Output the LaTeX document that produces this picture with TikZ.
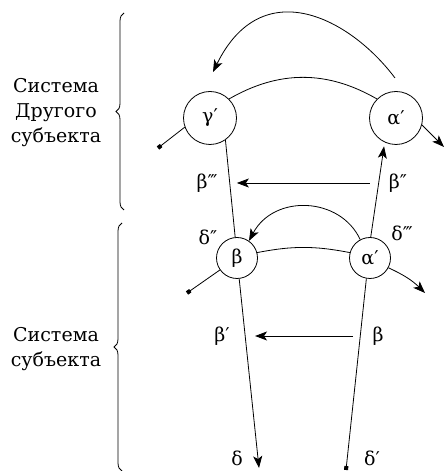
\documentclass[tikz,border=0pt]{standalone}
\usepackage{fontspec}
\setmainfont{DejaVu Serif}
\usetikzlibrary{arrows.meta,decorations.pathreplacing}

\tikzset{
  knot/.style={draw,circle,inner sep=0pt,minimum size=53pt},
  knotsm/.style={draw,circle,inner sep=0pt,minimum size=41pt},
  lbl/.style={inner sep=1pt},
  >={Stealth[length=12pt,width=9pt,inset=3pt]},
  sq/.style={-{Square[length=4pt,width=4pt]}},
  br/.style={decorate,decoration={brace,amplitude=8pt}},
}

\begin{document}
\begin{tikzpicture}[x=1pt,y=1pt,line width=0.8pt,font=\fontsize{19}{25}\selectfont]
\useasboundingbox (0,0) rectangle (445,471);
% circles
\node[knot] (gp) at (210,353) {γ′};
\node[knot] (at) at (396,353) {α′};
\node[knotsm] (b) at (237,213) {β};
\node[knotsm] (ab) at (370,213) {α′};
% labels
\node[lbl] (b3) at (207,288) {β‴};
\node[lbl] (b2) at (398,288) {β″};
\node[lbl] (b1) at (222,135) {β′};
\node[lbl] (b0) at (378,135) {β};
\node[lbl] (d2) at (208,234) {δ″};
\node[lbl] (d3) at (402,238) {δ‴};
\node[lbl] (d0) at (237,13) {δ};
\node[lbl] (d1) at (372,13) {δ′};
% free ends
\coordinate (arcA) at (395,393);
\coordinate (arcB) at (213,399);
\coordinate (dotg) at (158,323);
\coordinate (outa) at (444,324);
\coordinate (dotb) at (187,178);
\coordinate (outab) at (425,178);
\coordinate (dl) at (259,3);
\coordinate (dr) at (346,1);
% connectors
\draw (gp.45) to[bend left=30] (at.135);
\draw (b.15) to[bend left=11] (ab.165);
\draw[->] (arcA) .. controls +(-45,60) and +(49,100) .. (arcB);
\draw[->] (ab.118) .. controls +(-20,43) and +(25,47) .. (b.55);
\draw (gp.-55) -- (b.95);
\draw[->,shorten >=4pt] (ab.88) -- (at.-115);
\draw[->,shorten <=18pt,shorten >=18pt] (b2.west) -- (b3.east);
\draw[->,shorten <=18pt,shorten >=24pt] (b0.west) -- (b1.east);
\draw[->] (b.-84) -- (dl);
\draw[sq] (ab.-100) -- (dr);
\draw[sq] (gp.-160) -- (dotg);
\draw[->] (at.-15) -- (outa);
\draw[sq] (b.-145) -- (dotb);
\draw[->] (ab.-28) to[bend left=10] (outab);
% braces
\draw[br] (124,261) -- (124,458);
\draw[br] (122,0) -- (122,248);
\node[align=center] (sys2) at (56,358) {Система\\Другого\\субъекта};
\node[align=center] (sys1) at (56,122) {Система\\субъекта};
\end{tikzpicture}
\end{document}
